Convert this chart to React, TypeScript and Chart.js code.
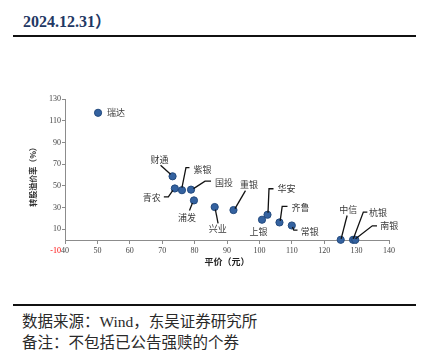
import React, { useEffect, useRef } from "react";
import { Chart, registerables } from "chart.js";

Chart.register(...registerables);

// ---- data ----
const bondNames = ["瑞达", "财通", "青农", "紫银", "国投", "浦发", "兴业", "重银", "上银", "华安", "齐鲁", "常银", "中信", "杭银", "南银"];
const parityValues = [50.2, 73.2, 73.9, 76.1, 78.9, 79.8, 86.2, 92.0, 100.8, 102.5, 106.2, 110.0, 125.1, 128.9, 129.6];
const premiumValues = [117.3, 58.8, 47.6, 46.0, 46.5, 36.6, 30.5, 27.7, 18.8, 23.4, 16.3, 13.5, 0.3, 0.3, 0.3];
const xTicks = [40, 50, 60, 70, 80, 90, 100, 110, 120, 130, 140];
const yTicks = [-10, 10, 30, 50, 70, 90, 110, 130];
const xTitle = "平价（元）";
const yTitle = "转股溢价率（%）";
const headerText = "2024.12.31）";
const sourceText = "数据来源：Wind，东吴证券研究所";
const noteText = "备注：不包括已公告强赎的个券";

// label placement (pixel offsets relative to each point) and leader lines
const labelLayout: { dx: number; dy: number; leader: number[][] }[] = [
  { dx: 18, dy: 0, leader: [] },
  { dx: -13, dy: -17, leader: [[-12, -11], [-2, -2]] },
  { dx: -23, dy: 9, leader: [[-11, 8.5], [-6.5, 8.5], [-2, 2]] },
  { dx: 20.5, dy: -21, leader: [[7.5, -22.5], [4, -22.5], [0, -2.5]] },
  { dx: 33, dy: -7.5, leader: [[20, -8.5], [14, -8.5], [2.5, -1]] },
  { dx: -7, dy: 17, leader: [[-4.5, 10], [-1.5, 2.5]] },
  { dx: 3, dy: 22, leader: [[0.7, 2.5], [3.4, 16.3]] },
  { dx: 15.5, dy: -25, leader: [[12, -19.5], [1.5, -1.5]] },
  { dx: -3.5, dy: 12, leader: [] },
  { dx: 19, dy: -26, leader: [[6, -26], [1.5, -26], [0.5, -2]] },
  { dx: 21, dy: -15, leader: [[8, -16], [2.7, -16], [0.7, -1.5]] },
  { dx: 18, dy: 6, leader: [[0.7, 1.5], [2, 4.7], [5.7, 4.7]] },
  { dx: 7.5, dy: -30, leader: [[6.4, -24.3], [0.4, -1]] },
  { dx: 25, dy: -27, leader: [[14.3, -27.7], [10.3, -27.7], [0.3, -1]] },
  { dx: 34, dy: -14, leader: [[21.7, -14], [17, -14], [0.3, -1]] },
];

const SERIF = '"Liberation Serif", "Noto Sans CJK SC", serif';
const CJK = '"Noto Sans CJK SC", "Liberation Serif", sans-serif';

const annotatePlugin = {
  id: "annotate",
  afterDatasetsDraw(chart: any) {
    const { ctx, chartArea, scales } = chart;
    const xs = scales.x;
    const ys = scales.y;
    ctx.save();
    // y axis line (top to zero)
    ctx.strokeStyle = "#8c8c8c";
    ctx.lineWidth = 1;
    const ax = Math.round(chartArea.left) + 0.5;
    ctx.beginPath();
    ctx.moveTo(ax, chartArea.top);
    ctx.lineTo(ax, Math.round(ys.getPixelForValue(0)) + 0.5);
    ctx.stroke();

    // leaders and labels
    ctx.font = `9px ${CJK}`;
    ctx.textAlign = "center";
    ctx.textBaseline = "middle";
    bondNames.forEach((name, i) => {
      const px = xs.getPixelForValue(parityValues[i]);
      const py = ys.getPixelForValue(premiumValues[i]);
      const l = labelLayout[i];
      if (l.leader.length) {
        ctx.strokeStyle = "#111";
        ctx.lineWidth = 1.3;
        ctx.beginPath();
        l.leader.forEach((p, k) => {
          if (k === 0) ctx.moveTo(px + p[0], py + p[1]);
          else ctx.lineTo(px + p[0], py + p[1]);
        });
        ctx.stroke();
      }
      ctx.fillStyle = "#3a3a3a";
      ctx.fillText(name, px + l.dx, py + l.dy);
    });

    // x axis title
    ctx.font = `bold 9px ${CJK}`;
    ctx.fillStyle = "#222";
    ctx.fillText(xTitle, (chartArea.left + chartArea.right) / 2, ys.getPixelForValue(-10) + 11);
    ctx.restore();
  },
};

function ScatterChart() {
  const ref = useRef<HTMLCanvasElement>(null);
  useEffect(() => {
    if (!ref.current) return;
    const chart = new Chart(ref.current, {
      type: "scatter",
      data: {
        datasets: [
          {
            data: parityValues.map((x, i) => ({ x, y: premiumValues[i] })),
            backgroundColor: "#3462a0",
            borderColor: "#234a7e",
            borderWidth: 1,
            pointRadius: 3.6,
          },
        ],
      },
      options: {
        animation: false,
        responsive: false,
        devicePixelRatio: 1,
        layout: { padding: { left: 0, right: 35, top: 39, bottom: 49 } },
        plugins: { legend: { display: false }, tooltip: { enabled: false } },
        scales: {
          x: {
            type: "linear",
            position: { y: 0 } as any,
            min: 40,
            max: 140,
            afterBuildTicks: (s: any) => {
              s.ticks = xTicks.map((v) => ({ value: v }));
            },
            grid: { drawOnChartArea: false, drawTicks: true, tickLength: 3, color: "#8c8c8c" },
            border: { display: true, color: "#8c8c8c", width: 1 },
            ticks: {
              font: { family: SERIF, size: 8 },
              color: "#444",
              padding: 3,
              maxRotation: 0,
              callback: (v: any) => String(v),
            },
          },
          y: {
            type: "linear",
            min: -10,
            max: 130,
            afterBuildTicks: (s: any) => {
              s.ticks = yTicks.map((v) => ({ value: v }));
            },
            afterFit: (s: any) => {
              s.width = 65;
            },
            grid: {
              drawOnChartArea: false,
              drawTicks: true,
              tickLength: 3,
              color: (c: any) => (c.tick && c.tick.value < 0 ? "rgba(0,0,0,0)" : "#8c8c8c"),
            },
            border: { display: false },
            ticks: {
              font: { family: SERIF, size: 8 },
              color: (c: any) => (c.tick && c.tick.value < 0 ? "#ff0000" : "#444"),
              padding: 1,
              callback: (v: any) => String(v),
            },
            title: {
              display: true,
              text: yTitle,
              font: { family: CJK, size: 8, weight: "bold" },
              color: "#333",
              padding: { top: 28, bottom: 0 },
            },
          },
        },
      },
      plugins: [annotatePlugin],
    });
    return () => chart.destroy();
  }, []);
  return <canvas ref={ref} width={424} height={240} style={{ display: "block", width: 424, height: 240 }} />;
}

export default function App() {
  return (
    <div style={{ position: "fixed", left: 0, top: 0, width: 424, height: 356, background: "#fff", overflow: "hidden" }}>
      <div
        style={{
          position: "absolute",
          left: 23,
          top: 10,
          fontFamily: SERIF,
          fontWeight: "bold",
          fontSize: 16,
          lineHeight: "24px",
          color: "#1f3864",
          whiteSpace: "nowrap",
        }}
      >
        {headerText}
      </div>
      <div style={{ position: "absolute", left: 13, top: 35, width: 403, height: 2, background: "#111" }} />
      <div style={{ position: "absolute", left: 0, top: 60 }}>
        <ScatterChart />
      </div>
      <div style={{ position: "absolute", left: 13, top: 304, width: 403, height: 2, background: "#111" }} />
      <div
        style={{
          position: "absolute",
          left: 22,
          top: 311,
          fontFamily: SERIF,
          fontSize: 15.5,
          lineHeight: "21px",
          color: "#2a2a2a",
          whiteSpace: "nowrap",
        }}
      >
        <div>{sourceText}</div>
        <div>{noteText}</div>
      </div>
    </div>
  );
}
